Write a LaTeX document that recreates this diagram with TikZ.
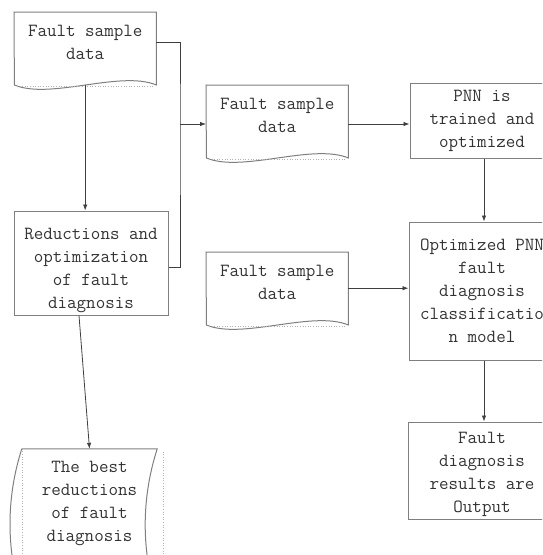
\documentclass[tikz,border=0pt]{standalone}
\usetikzlibrary{arrows.meta}

\definecolor{boxgray}{HTML}{7F7F7F}
\definecolor{arrgray}{HTML}{3F3F3F}
\definecolor{txtgray}{HTML}{333333}

\tikzset{
  boxline/.style={draw=boxgray, line width=1pt},
  dotline/.style={draw=boxgray!60, line width=0.6pt, dotted},
  flow/.style={draw=arrgray, line width=0.8pt, -{Latex[length=6pt,width=4.5pt]}},
  joint/.style={draw=arrgray, line width=0.8pt},
  txt/.style={align=center, text=txtgray, inner sep=0pt,
    font=\ttfamily\fontsize{18.5}{23}\selectfont},
  docbox/.style={txt, minimum width=142pt, minimum height=60pt, anchor=north west},
  stepbox/.style={txt, boxline, rectangle},
}

\begin{document}
\begin{tikzpicture}[x=1pt,y=-1pt]
  \clip (0,0) rectangle (542,555);

  %documents
  \node[docbox] (fsd1) at (14,12) {Fault sample\\data};
  \node[docbox] (fsd2) at (206,85) {Fault sample\\data};
  \node[docbox] (fsd3) at (206,252) {Fault sample\\data};

  \draw[boxline] (fsd1.north west) -- (fsd1.north east) -- ++(0,73)
    .. controls +(-36,-15) and +(36,15) .. ++(-142,0) -- cycle;
  \draw[boxline] (fsd2.north west) -- (fsd2.north east) -- ++(0,73)
    .. controls +(-36,-15) and +(36,15) .. ++(-142,0) -- cycle;
  \draw[boxline] (fsd3.north west) -- (fsd3.north east) -- ++(0,73)
    .. controls +(-36,-15) and +(36,15) .. ++(-142,0) -- cycle;

  \draw[dotline] (fsd1.north west) ++(3,74) -- ++(136,0);
  \draw[dotline] (fsd2.north west) ++(3,74) -- ++(136,0);
  \draw[dotline] (fsd3.north west) ++(3,74) -- ++(136,0);

  %process boxes
  \node[stepbox, minimum width=154pt, minimum height=104pt] (red) at (91,263)
    {\rule{0pt}{27pt}Reductions and\\optimization\\of fault\\diagnosis};
  \node[stepbox, minimum width=144pt, minimum height=75pt] (pnn) at (482,120.5)
    {PNN is\\trained and\\optimized};
  \node[stepbox, minimum width=146pt, minimum height=138pt] (opt) at (482,291)
    {Optimized PNN\\fault\\diagnosis\\classificatio\\n model};
  \node[stepbox, minimum width=148pt, minimum height=97pt] (res) at (482,470.5)
    {\rule{0pt}{19pt}Fault\\diagnosis\\results are\\Output};

  %best reductions (tape)
  \node[txt, minimum width=135pt, minimum height=109pt] (best) at (89.5,503.5)
    {The best\\reductions\\of fault\\diagnosis};
  \draw[boxline] (best.north west) -- (best.north east)
    .. controls +(-16,50) and +(-16,-50) .. ++(0,152) -- ++(-135,0)
    .. controls +(-16,-50) and +(-16,50) .. (best.north west);
  \draw[dotline] (best.north west) -- ++(0,110);
  \draw[dotline] (best.north east) ++(6,3) -- ++(0,110);

  %connectors
  \coordinate (jn) at (180,124);
  \draw[flow] ([yshift=-13pt]fsd1.south) -- (fsd1.south |- red.north);
  \draw[joint] ([yshift=-4pt]red.east) -| (jn) |- (fsd1.east);
  \draw[flow] (jn) -- (jn -| fsd2.west);
  \draw[flow] (fsd2.east |- jn) -- (pnn.west |- jn);
  \draw[flow] ([xshift=2pt]pnn.south) -- ([xshift=2pt]opt.north);
  \draw[flow] ([yshift=-6pt]fsd3.east) -- ([yshift=-6pt]fsd3.east -| opt.west);
  \draw[flow] ([xshift=2pt]opt.south) -- ([xshift=2pt]res.north);
  \draw[flow] ([xshift=-12pt]red.south) -- (best.north);
\end{tikzpicture}
\end{document}
